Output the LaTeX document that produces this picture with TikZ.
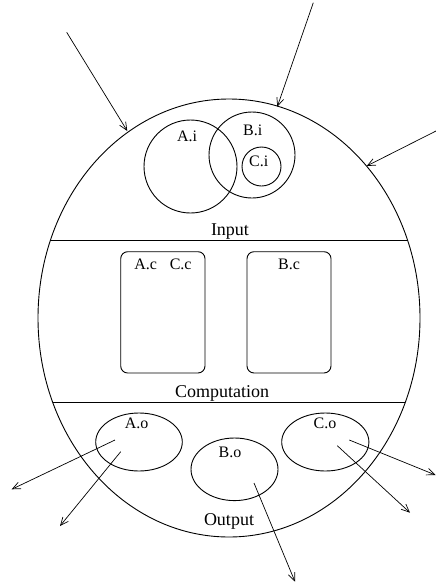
\documentclass[tikz,border=0pt]{standalone}
\usepackage{fontspec}
\setmainfont{Liberation Serif}
\usetikzlibrary{arrows.meta}

\tikzset{
  outline/.style={line width=0.9pt},
  part/.style={line width=0.9pt},
  flow/.style={line width=0.7pt, -{Straight Barb[length=8pt,width=7pt,line width=0.7pt]}},
  small/.style={font=\fontsize{16}{18}\selectfont, inner sep=0pt, anchor=base},
  section/.style={font=\fontsize{18}{20}\selectfont, inner sep=0pt, anchor=base},
}

\begin{document}
\begin{tikzpicture}[x=1pt, y=-1pt]
\useasboundingbox (0,0) rectangle (436,584);

% the system boundary and its three layers
\draw[outline] (229,318) ellipse [x radius=191, y radius=219];
\begin{scope}
  \clip (229,318) ellipse [x radius=191, y radius=219];
  \draw[outline] (0,240) -- (436,240);
  \draw[outline] (0,402) -- (436,402);
\end{scope}

% input layer
\draw[part] (190.5,166.5) circle [radius=46.5];
\draw[part] (252,155) circle [radius=43];
\draw[part] (261.5,166.5) circle [radius=19.5];
\node[small] (ai) at (187,141.7) {A.i};
\node[small] (bi) at (252.7,135.7) {B.i};
\node[small] (ci) at (258.7,166.5) {C.i};
\node[section] (inp) at (230,235) {Input};

% computation layer
\draw[part, rounded corners=7pt] (120.7,251.7) rectangle (205,373);
\draw[part, rounded corners=7pt] (247,251.7) rectangle (331,373);
\node[small] (ac) at (145.7,269.3) {A.c};
\node[small] (cc) at (180.7,269.3) {C.c};
\node[small] (bc) at (289,269.3) {B.c};
\node[section] (comp) at (222,397) {Computation};

% output layer
\draw[part] (139,442) ellipse [x radius=43.3, y radius=29];
\draw[part] (234.5,469.3) ellipse [x radius=43.5, y radius=31.3];
\draw[part] (325.3,442) ellipse [x radius=43.6, y radius=29];
\node[small] (ao) at (136.7,428.3) {A.o};
\node[small] (bo) at (230,457.3) {B.o};
\node[small] (co) at (325,428.3) {C.o};
\node[section] (outp) at (229,525) {Output};

% incoming flows
\coordinate (in1s) at (66.7,32.3);   \coordinate (in1e) at (127.3,131);
\coordinate (in2s) at (313.3,2.7);   \coordinate (in2e) at (277.3,106.7);
\coordinate (in3s) at (436,131);     \coordinate (in3e) at (366.7,166);
\draw[flow] (in1s) -- (in1e);
\draw[flow] (in2s) -- (in2e);
\draw[flow] (in3s) -- (in3e);

% outgoing flows
\coordinate (a1s) at (115,440);      \coordinate (a1e) at (11.7,489.3);
\coordinate (a2s) at (120.7,451.7);  \coordinate (a2e) at (60,526);
\coordinate (b1s) at (254,483);      \coordinate (b1e) at (295,581.7);
\coordinate (c1s) at (349.3,440);    \coordinate (c1e) at (435.5,475);
\coordinate (c2s) at (337.3,445.7);  \coordinate (c2e) at (410,512.7);
\draw[flow] (a1s) -- (a1e);
\draw[flow] (a2s) -- (a2e);
\draw[flow] (b1s) -- (b1e);
\draw[flow] (c1s) -- (c1e);
\draw[flow] (c2s) -- (c2e);
\end{tikzpicture}
\end{document}
